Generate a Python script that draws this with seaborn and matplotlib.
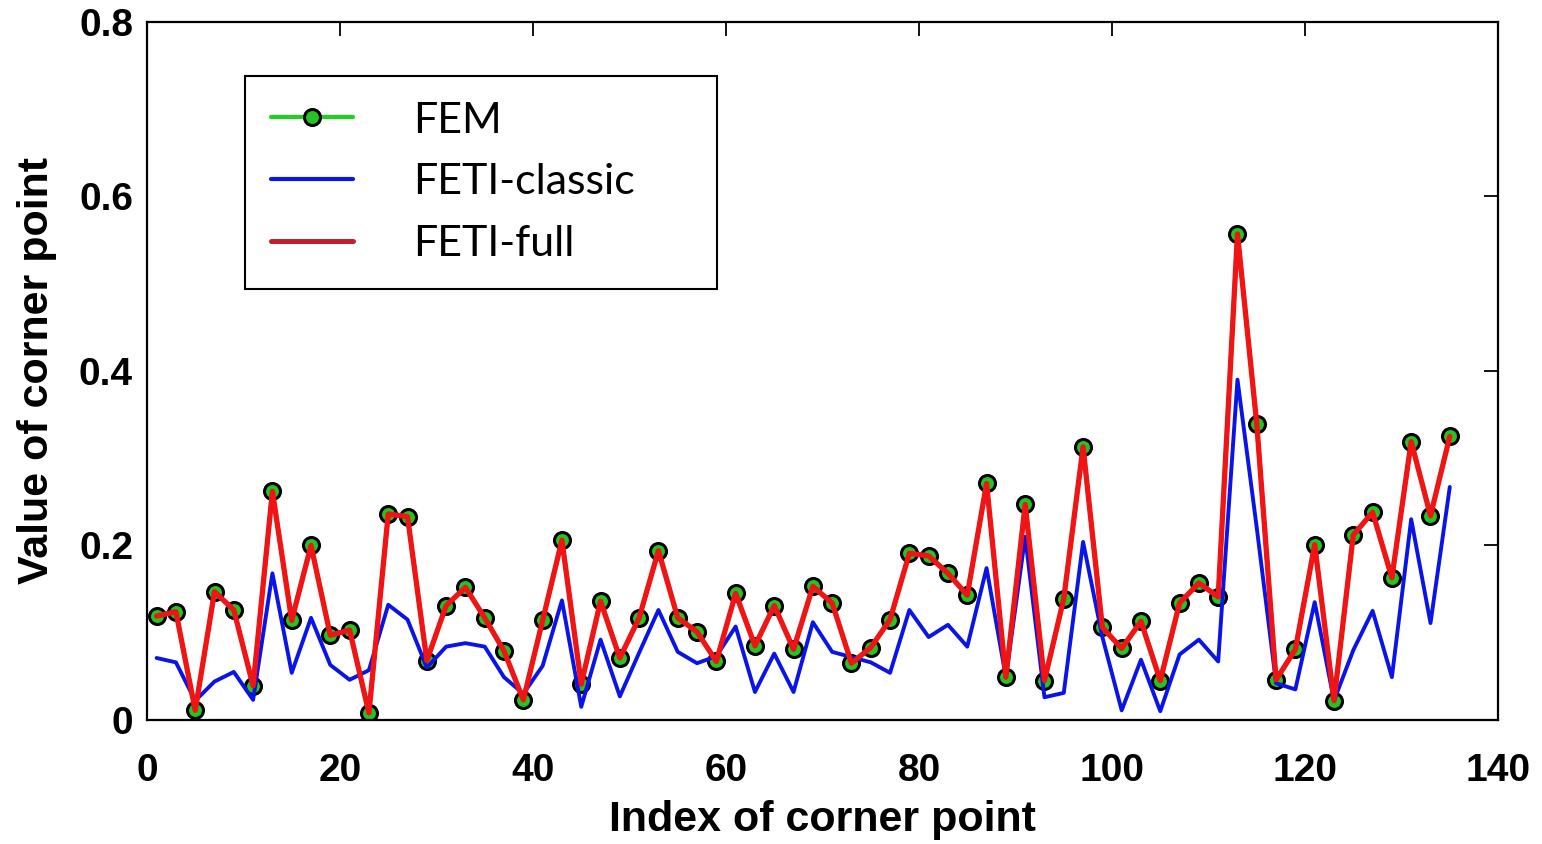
import matplotlib
matplotlib.use("Agg")
import matplotlib.pyplot as plt
from matplotlib.lines import Line2D
import numpy as np
import pandas as pd
import seaborn as sns

# Corner point indices (odd numbers 1..135)
corner_index = [
    1, 3, 5, 7, 9, 11, 13, 15, 17, 19, 21, 23, 25, 27, 29, 31, 33,
    35, 37, 39, 41, 43, 45, 47, 49, 51, 53, 55, 57, 59, 61, 63, 65,
    67, 69, 71, 73, 75, 77, 79, 81, 83, 85, 87, 89, 91, 93, 95, 97,
    99, 101, 103, 105, 107, 109, 111, 113, 115, 117, 119, 121, 123,
    125, 127, 129, 131, 133, 135,
]

# Reference FEM solution at each corner point
fem = [
    0.119, 0.124, 0.011, 0.147, 0.126, 0.039, 0.262, 0.114, 0.200, 0.097,
    0.103, 0.008, 0.236, 0.233, 0.068, 0.131, 0.152, 0.117, 0.079, 0.023,
    0.114, 0.206, 0.041, 0.136, 0.071, 0.117, 0.194, 0.117, 0.101, 0.067,
    0.145, 0.085, 0.131, 0.081, 0.153, 0.134, 0.065, 0.083, 0.115, 0.191,
    0.188, 0.168, 0.143, 0.271, 0.049, 0.247, 0.045, 0.139, 0.313, 0.106,
    0.082, 0.113, 0.045, 0.134, 0.157, 0.141, 0.557, 0.339, 0.046, 0.081,
    0.201, 0.022, 0.212, 0.238, 0.163, 0.319, 0.234, 0.325,
]

# FETI with classic corner treatment
feti_classic = [
    0.071, 0.066, 0.022, 0.044, 0.055, 0.023, 0.168, 0.054, 0.117, 0.063,
    0.046, 0.057, 0.132, 0.115, 0.060, 0.084, 0.088, 0.084, 0.049, 0.030,
    0.062, 0.137, 0.015, 0.092, 0.027, 0.077, 0.126, 0.078, 0.065, 0.073,
    0.107, 0.032, 0.076, 0.032, 0.112, 0.078, 0.072, 0.066, 0.054, 0.126,
    0.095, 0.109, 0.084, 0.174, 0.049, 0.210, 0.026, 0.031, 0.204, 0.095,
    0.011, 0.069, 0.010, 0.075, 0.092, 0.067, 0.390, 0.220, 0.042, 0.035,
    0.135, 0.022, 0.080, 0.125, 0.049, 0.230, 0.111, 0.267,
]

# FETI with full corner coupling (coincides with FEM)
feti_full = list(fem)

x_ticks = [0, 20, 40, 60, 80, 100, 120, 140]
y_ticks = [0, 0.2, 0.4, 0.6, 0.8]
y_tick_labels = ["0", "0.2", "0.4", "0.6", "0.8"]

series_names = ["FEM", "FETI-classic", "FETI-full"]

df = pd.DataFrame({
    "index": corner_index * 3,
    "value": fem + feti_classic + feti_full,
    "method": [series_names[0]] * len(fem)
    + [series_names[1]] * len(feti_classic)
    + [series_names[2]] * len(feti_full),
})

sns.set_style("white")
plt.rcParams["font.family"] = ["Liberation Sans", "DejaVu Sans"]
plt.rcParams["text.color"] = "black"
plt.rcParams["axes.labelcolor"] = "black"
plt.rcParams["xtick.color"] = "black"
plt.rcParams["ytick.color"] = "black"

GREEN = "#1fd11f"
BLUE = "#0a14e6"
RED = "#f01414"

fig = plt.figure(figsize=(15.42, 8.44), dpi=100)
ax = fig.add_axes([0.0953, 0.147, 0.8762, 0.827])

sns.lineplot(
    data=df[df["method"] == "FEM"], x="index", y="value", ax=ax,
    color=GREEN, linewidth=3, marker="o", markersize=11.5,
    markerfacecolor="#22c522", markeredgecolor="black", markeredgewidth=2.2,
    estimator=None, sort=False, zorder=2, legend=False,
)
sns.lineplot(
    data=df[df["method"] == "FETI-classic"], x="index", y="value", ax=ax,
    color=BLUE, linewidth=2.8, estimator=None, sort=False, zorder=3,
    legend=False,
)
sns.lineplot(
    data=df[df["method"] == "FETI-full"], x="index", y="value", ax=ax,
    color=RED, linewidth=3.8, estimator=None, sort=False, zorder=4,
    legend=False,
)

ax.set_xlim(0, 140)
ax.set_ylim(0, 0.8)
ax.set_xticks(x_ticks)
ax.set_xticklabels([str(t) for t in x_ticks])
ax.set_yticks(y_ticks)
ax.set_yticklabels(y_tick_labels)

for lab in ax.get_xticklabels() + ax.get_yticklabels():
    lab.set_fontsize(28)
    lab.set_fontweight("bold")
    lab.set_color("black")

ax.tick_params(axis="both", direction="in", length=10, width=1.3,
               top=True, right=True, colors="black")
ax.tick_params(axis="x", pad=24)
ax.tick_params(axis="y", pad=10)

for sp in ax.spines.values():
    sp.set_visible(True)
    sp.set_color("black")
    sp.set_linewidth(1.6)

ax.set_xlabel("Index of corner point", fontsize=31, fontweight="bold",
              labelpad=8, color="black")
ax.set_ylabel("Value of corner point", fontsize=31, fontweight="bold",
              labelpad=16, color="black")

handles = [
    Line2D([], [], color=GREEN, linewidth=3, marker="o", markersize=11.5,
           markerfacecolor="#22c522", markeredgecolor="black",
           markeredgewidth=2.2),
    Line2D([], [], color=BLUE, linewidth=3),
    Line2D([], [], color="#c0202e", linewidth=3.6),
]
# Legend box spans a fixed region of the axes; "expand" stretches it
leg = ax.legend(
    handles, series_names, loc="upper left",
    bbox_to_anchor=(0.0725, 0.923, 0.3495, 0.0),
    mode="expand",
    prop={"family": ["Lato", "DejaVu Sans"], "size": 31},
    frameon=True, fancybox=False, framealpha=1, edgecolor="black",
    handlelength=1.9, handletextpad=1.4, labelspacing=0.55,
    borderpad=0.6, borderaxespad=0,
)
leg.get_frame().set_linewidth(1.5)

fig.savefig("out.png", dpi=100)
